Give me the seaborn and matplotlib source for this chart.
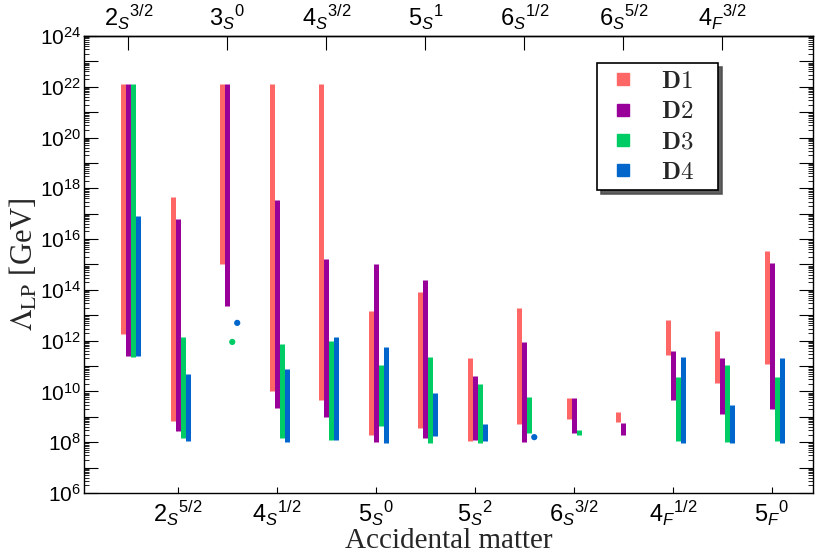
import numpy as np
import pandas as pd
import matplotlib
matplotlib.use('Agg')
import matplotlib.pyplot as plt
import seaborn as sns
from matplotlib.ticker import LogLocator, FuncFormatter, NullFormatter
from matplotlib.lines import Line2D
from matplotlib.font_manager import FontProperties
from matplotlib.offsetbox import DrawingArea

# categories (accidental matter), in the order they sit on the x axis
labels = [r'$2_S{}^{3/2}$', r'$2_S{}^{5/2}$', r'$3_S{}^{0}$', r'$4_S{}^{1/2}$',
          r'$4_S{}^{3/2}$', r'$5_S{}^{0}$', r'$5_S{}^{1}$', r'$5_S{}^{2}$',
          r'$6_S{}^{1/2}$', r'$6_S{}^{3/2}$', r'$6_S{}^{5/2}$', r'$4_F{}^{1/2}$',
          r'$4_F{}^{3/2}$', r'$5_F{}^{0}$']

# log10 of Lambda_LP [GeV]: upper and lower ends of each range (None = absent)
d1_hi = [22.1, 17.65, 22.1, 22.1, 22.1, 13.15, 13.9, 11.3, 13.3, 9.75, 9.2, 12.8, 12.4, 15.55]
d1_lo = [12.25, 8.85, 15.0, 10.0, 9.65, 8.3, 8.55, 8.05, 8.7, 8.9, 8.8, 11.45, 10.35, 11.1]
d2_hi = [22.1, 16.8, 22.1, 17.55, 15.2, 15.0, 14.4, 10.6, 11.95, 9.75, 8.75, 11.6, 11.3, 15.05]
d2_lo = [11.4, 8.45, 13.35, 9.35, 9.0, 8.0, 8.15, 8.1, 8.0, 8.35, 8.3, 9.65, 9.1, 9.3]
d3_hi = [22.1, 12.15, 11.95, 11.85, 12.0, 11.05, 11.35, 10.3, 9.8, 8.5, None, 10.55, 11.05, 10.55]
d3_lo = [11.35, 8.15, 11.95, 8.15, 8.1, 8.65, 7.95, 7.95, 8.35, 8.3, None, 8.05, 8.0, 8.05]
d4_hi = [16.9, 10.7, 12.7, 10.9, 12.15, 11.75, 9.95, 8.7, 8.2, None, None, 11.35, 9.45, 11.3]
d4_lo = [11.4, 8.05, 12.7, 8.0, 8.1, 7.95, 8.25, 8.05, 8.2, None, None, 7.95, 7.95, 7.95]

set_names = ['D1', 'D2', 'D3', 'D4']
colors = {'D1': '#ff6666', 'D2': '#990099', 'D3': '#00cc66', 'D4': '#0066cc'}
offsets = {'D1': -0.1, 'D2': 0.0, 'D3': 0.1, 'D4': 0.2}

ranges = {'D1': (d1_lo, d1_hi), 'D2': (d2_lo, d2_hi),
          'D3': (d3_lo, d3_hi), 'D4': (d4_lo, d4_hi)}

seg_rows = []
pt_rows = []
seg = 0
for name in set_names:
    lo, hi = ranges[name]
    for i in range(len(labels)):
        if lo[i] is None:
            continue
        x = i + 1 + offsets[name]
        if lo[i] == hi[i]:
            pt_rows.append({'x': x, 'y': 10 ** lo[i], 'set': name})
        else:
            seg_rows.append({'x': x, 'y': 10 ** lo[i], 'set': name, 'seg': seg})
            seg_rows.append({'x': x, 'y': 10 ** hi[i], 'set': name, 'seg': seg})
            seg += 1
segs = pd.DataFrame(seg_rows)
pts = pd.DataFrame(pt_rows)

sns.set_theme(style='ticks')
plt.rcParams['font.family'] = ['Liberation Sans', 'DejaVu Sans']
plt.rcParams['mathtext.fontset'] = 'custom'
plt.rcParams['mathtext.rm'] = 'Liberation Sans'
plt.rcParams['mathtext.it'] = 'Liberation Sans:italic'
plt.rcParams['mathtext.bf'] = 'Liberation Sans:bold'
plt.rcParams['lines.solid_capstyle'] = 'butt'
plt.rcParams['axes.edgecolor'] = 'black'
plt.rcParams['xtick.color'] = 'black'
plt.rcParams['ytick.color'] = 'black'

fig = plt.figure(figsize=(8.17, 5.57), dpi=100)
ax = fig.add_axes([0.1028, 0.1149, 0.8923, 0.8205])
ax.set_yscale('log')

sns.lineplot(data=segs, x='x', y='y', hue='set', units='seg', estimator=None,
             sort=False, palette=colors, linewidth=3.6, legend=False, ax=ax)
sns.scatterplot(data=pts, x='x', y='y', hue='set', palette=colors, s=20,
                edgecolor='none', legend=False, ax=ax)

ax.set_xlim(0.105, 14.83)
ax.set_ylim(1e6, 1e24)

# y axis: every decade, label every second one
ax.yaxis.set_major_locator(LogLocator(base=10, numticks=40))
ax.yaxis.set_minor_locator(LogLocator(base=10, subs=np.arange(2, 10), numticks=200))
ax.yaxis.set_major_formatter(FuncFormatter(
    lambda v, p: r'$10^{%d}$' % round(np.log10(v)) if round(np.log10(v)) % 2 == 0 else ''))
ax.yaxis.set_minor_formatter(NullFormatter())
ax.tick_params(axis='y', which='major', direction='in', length=10, width=0.8,
               right=True, labelsize=15, pad=2)
ax.tick_params(axis='y', which='minor', direction='in', length=3.5, width=0.6, right=True)

# bottom and top category labels alternate
pos = np.arange(1, len(labels) + 1)
ax.set_xticks(pos[1::2], labels[1::2])
ax.tick_params(axis='x', which='major', direction='in', length=4, width=0.8,
               labelsize=17, pad=4)
ax.xaxis.set_minor_locator(plt.NullLocator())
top = ax.secondary_xaxis('top')
top.set_xticks(pos[0::2], labels[0::2])
top.tick_params(axis='x', direction='in', length=10, width=0.8, labelsize=17, pad=3)

for sp in list(ax.spines.values()) + list(top.spines.values()):
    sp.set_linewidth(1.0)
    sp.set_color('black')

ax.set_xlabel('Accidental matter', family='Liberation Serif', fontsize=21, labelpad=0)
ax.set_ylabel(r'$\Lambda_{\mathrm{LP}}$ [GeV]', family='Liberation Serif',
              math_fontfamily='stix', fontsize=22, labelpad=0)

handles = [Line2D([], [], marker='s', ls='none', color=colors[n], markersize=8)
           for n in set_names]
leg = ax.legend(handles, [r'$\mathbf{%s}$' % n for n in set_names],
                loc='upper right', bbox_to_anchor=(0.87, 0.941), borderaxespad=0,
                prop=FontProperties(size=18, math_fontfamily='cm'),
                frameon=True, fancybox=False, shadow={'ox': 3, 'oy': -3, 'alpha': 0.9},
                handlelength=1.6, handletextpad=0.72, borderpad=0.25, labelspacing=0.25)
leg.get_frame().set_edgecolor('black')
leg.get_frame().set_linewidth(1.2)
leg.get_frame().set_alpha(1)
# blank space after each label, as in the original legend box
for col in leg._legend_handle_box.get_children():
    for row in col.get_children():
        row.get_children().append(DrawingArea(0, 1))

fig.savefig('out.png', dpi=100)
